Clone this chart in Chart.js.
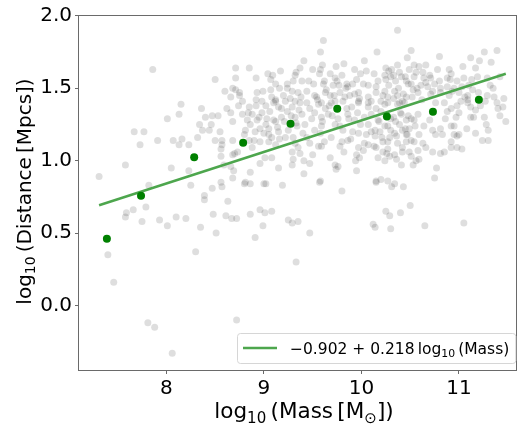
<!DOCTYPE html>
<html><head><meta charset="utf-8">
<script src="https://cdn.jsdelivr.net/npm/chart.js@4.4.1/dist/chart.umd.min.js"></script>
<style>html,body{margin:0;padding:0;background:#fff;overflow:hidden}canvas{display:block}</style>
</head><body>
<canvas id="c" width="521" height="426"></canvas>
<script>
// ---- data ----
const xTicks = [8, 9, 10, 11];
const yTicks = [0.0, 0.5, 1.0, 1.5, 2.0];
const xRange = [7.104, 11.595];
const yRange = [-0.446, 2.006];
const binMass = [7.39, 7.74, 8.285, 8.787, 9.273, 9.752, 10.261, 10.733, 11.204];
const binDist = [0.46, 0.758, 1.023, 1.124, 1.255, 1.358, 1.305, 1.337, 1.42];
const fitMass = [7.31, 11.48];
const fitDist = [0.692, 1.600];
const fitLabel = '−0.902 + 0.218 log₁₀ (Mass)';
const xTitle = 'log₁₀ (Mass [M☉])';
const yTitle = 'log₁₀ (Distance [Mpcs])';
const galaxies = [
[7.58,0.61],[7.59,0.64],[7.66,0.66],[7.79,0.68],[7.75,0.58],[7.82,0.83],[7.40,0.35],[7.46,0.16],[7.81,-0.12],[7.88,-0.15],[8.06,-0.33],[7.93,0.59],[8.01,0.55],[8.10,0.61],[8.20,0.60],[8.25,0.83],[8.30,0.37],[8.35,0.54],[8.39,0.76],[8.39,0.73],[8.47,0.81],[8.48,0.63],[8.51,0.50],[8.57,0.82],[8.61,0.62],[8.63,0.72],[8.67,0.60],[8.72,0.60],[8.72,-0.10],[8.80,0.84],[8.86,0.84],[8.86,0.63],[8.91,0.47],[8.96,0.66],[8.99,0.55],[9.01,0.64],[9.00,0.84],[9.08,0.65],[9.19,0.83],[9.25,0.59],[9.29,0.57],[9.35,0.58],[9.33,0.30],[9.47,0.50],[9.57,0.85],[9.80,0.79],[10.12,0.56],[10.14,0.54],[10.15,0.85],[10.25,0.65],[10.29,0.62],[10.30,0.53],[10.31,0.82],[10.43,0.82],[10.40,0.64],[10.50,0.69],[10.65,0.55],[11.05,0.57],
[7.86,1.63],[8.01,1.29],[7.67,1.20],[7.77,1.20],[7.91,1.14],[7.73,1.11],[8.07,1.14],[7.58,0.97],[7.31,0.89],[8.05,0.95],
[8.15,1.39],[8.36,1.36],[8.13,1.32],[8.40,1.30],[8.47,1.31],[8.53,1.31],[8.34,1.25],[8.46,1.25],[8.37,1.21],[8.44,1.21],[8.66,1.33],[8.74,1.38],[8.85,1.37],[8.92,1.38],[8.16,1.15],[8.23,1.11],[8.13,1.11],[8.32,1.16],[8.50,1.14],[8.57,1.11],[8.57,1.14],[8.68,1.14],[8.73,1.06],[8.68,1.04],[8.90,1.14],[8.85,1.14],[8.96,1.13],[8.56,1.03],[8.66,0.96],[8.69,0.93],[8.86,0.92],[8.96,0.98],[8.81,0.85],[8.56,0.85],[8.23,0.93],[9.02,0.84],
[8.78,1.32],[8.83,1.28],[8.88,1.32],[8.93,1.28],[8.98,1.33],[9.03,1.29],[9.05,1.22],[9.12,1.27],[9.18,1.30],[9.24,1.34],[9.15,1.20],[9.08,1.16],[9.00,1.19],[8.91,1.20],[8.86,1.25],[8.96,1.22],[8.81,1.21],[9.22,1.16],[9.12,1.11],[9.05,1.13],[9.02,1.38],[9.15,1.37],[9.10,1.40],
[8.71,1.64],[8.85,1.64],[8.50,1.56],[8.71,1.57],[8.92,1.57],[9.04,1.60],[9.09,1.59],[9.17,1.62],[9.07,1.56],[9.12,1.53],[8.68,1.50],[8.71,1.49],[8.75,1.47],[8.66,1.44],[8.93,1.47],[8.99,1.48],[9.07,1.49],[9.16,1.50],[9.08,1.44],[8.78,1.41],[9.12,1.41],[9.24,1.53],[9.24,1.50],[9.22,1.41],
[10.37,1.90],[9.61,1.83],[9.58,1.75],[10.16,1.75],[9.41,1.69],[10.03,1.69],[9.37,1.64],[9.33,1.61],[9.32,1.59],[9.50,1.63],[9.60,1.66],[9.58,1.63],[9.57,1.60],[9.74,1.65],[9.82,1.67],[9.68,1.60],[9.80,1.59],[9.73,1.57],[9.93,1.63],[10.05,1.62],[9.99,1.60],[10.13,1.60],[10.25,1.64],[10.28,1.62],[10.31,1.63],[10.37,1.66],[10.39,1.61],[10.24,1.59],[10.17,1.55],[10.35,1.55],[10.46,1.55],[9.30,1.55],[9.39,1.55],[9.46,1.55],[9.51,1.53],[9.61,1.53],[9.71,1.52],[9.75,1.55],[9.85,1.53],[9.86,1.51],[9.95,1.56],[10.02,1.53],[10.07,1.52],[10.15,1.51],[10.25,1.56],[10.33,1.59],[10.41,1.58],
[9.29,1.48],[9.35,1.47],[9.44,1.48],[9.52,1.45],[9.54,1.44],[9.63,1.47],[9.68,1.45],[9.78,1.47],[9.83,1.44],[9.88,1.45],[9.97,1.47],[9.98,1.43],[10.07,1.44],[10.10,1.41],[10.15,1.47],[10.24,1.48],[10.27,1.44],[10.34,1.48],[10.37,1.45],[10.42,1.41],[10.46,1.44],[9.32,1.41],[9.44,1.40],[9.59,1.40],[9.69,1.40],[9.73,1.41],[9.97,1.41],[10.07,1.40],[10.20,1.41],[10.27,1.40],[10.39,1.40],
[10.51,1.76],[10.80,1.72],[11.26,1.75],[11.39,1.76],[10.47,1.71],[11.21,1.69],[11.33,1.68],[11.12,1.71],[10.54,1.66],[10.59,1.65],[10.66,1.66],[10.49,1.63],[10.63,1.61],[10.70,1.59],[10.78,1.63],[10.90,1.63],[10.92,1.60],[11.04,1.65],[11.17,1.64],[10.54,1.58],[10.64,1.57],[10.71,1.57],[10.80,1.55],[10.88,1.57],[10.91,1.56],[10.98,1.55],[11.05,1.57],[11.19,1.58],[11.29,1.57],[10.51,1.53],[10.61,1.52],[10.68,1.51],[10.75,1.53],[10.81,1.50],[10.88,1.51],[10.95,1.50],[11.03,1.51],[11.10,1.52],[11.14,1.49],[10.53,1.49],[10.58,1.47],[10.73,1.48],[10.81,1.47],[10.90,1.45],[11.00,1.47],[11.09,1.45],[11.20,1.47],[11.29,1.45],[11.36,1.44],[11.46,1.43],[11.02,1.41],[11.09,1.42],[11.27,1.41],[11.39,1.40],
[10.58,1.32],[10.54,1.28],[10.51,1.29],[10.49,1.22],[10.47,1.18],[10.59,1.18],[10.64,1.24],[10.70,1.28],[10.73,1.21],[10.76,1.18],[10.81,1.22],[10.83,1.18],[10.54,1.13],[10.63,1.12],[10.66,1.09],[10.73,1.06],[10.81,1.05],[10.85,1.06],[10.92,1.13],[10.92,1.09],[10.98,1.09],[11.03,1.08],[10.88,1.34],[10.86,1.29],[10.92,1.36],[10.98,1.38],[10.97,1.30],[10.92,1.24],[10.95,1.24],[11.00,1.18],[10.98,1.17],[11.09,1.40],[11.12,1.37],[11.17,1.35],[11.12,1.30],[11.15,1.30],[11.26,1.30],[11.40,1.36],[11.45,1.37],[11.42,1.31],[11.17,1.19],[11.30,1.21],[11.24,1.14],[11.30,1.14],[10.49,1.06],[10.51,1.03],[10.56,1.00],[10.59,1.01],[10.53,0.97],[10.77,0.95],[10.75,0.88],
[9.29,1.37],[9.37,1.40],[9.47,1.36],[9.56,1.39],[9.63,1.36],[9.85,1.36],[9.97,1.40],[10.07,1.37],[10.15,1.36],[10.24,1.39],[10.37,1.39],[10.44,1.40],[9.32,1.30],[9.39,1.32],[9.49,1.29],[9.59,1.30],[9.66,1.32],[9.76,1.29],[9.86,1.32],[9.93,1.28],[10.03,1.30],[10.10,1.32],[10.17,1.28],[10.30,1.29],[10.41,1.32],[10.46,1.28],[9.34,1.24],[9.42,1.25],[9.52,1.21],[9.59,1.24],[9.73,1.25],[9.81,1.21],[9.91,1.20],[9.97,1.19],[10.07,1.25],[10.14,1.21],[10.19,1.20],[10.27,1.24],[10.34,1.19],[10.42,1.21],[10.46,1.18],[9.32,1.12],[9.47,1.12],[9.56,1.10],[9.69,1.16],[9.80,1.13],[9.86,1.14],[10.03,1.12],[10.14,1.17],[10.22,1.13],[10.29,1.16],[10.37,1.12],[10.46,1.13],[9.29,1.06],[9.37,1.05],[9.59,1.10],[9.78,1.10],[9.97,1.09],[10.07,1.11],[10.15,1.09],[10.22,1.06],[10.27,1.08],[10.34,1.04],[10.42,1.06],[9.30,1.01],[9.41,1.00],[9.47,0.98],[9.73,0.97],[9.76,0.96],[9.95,1.04],[9.98,1.02],[10.17,1.02],[10.24,1.00],[10.29,1.03],[10.36,1.01],[10.41,0.97],[9.41,0.91],[9.74,0.94],[9.95,0.93],[9.58,0.86],[10.15,0.86],[10.20,0.87],[10.27,0.86],[10.34,0.84],
[8.95,1.30],[9.02,1.25],[9.06,1.34],[9.10,1.28],[9.14,1.23],[9.18,1.36],[9.21,1.27],[9.25,1.21],[9.28,1.31],[9.33,1.26],[9.36,1.35],[9.12,1.42],[9.20,1.45],[9.27,1.43],[9.05,1.18],[9.16,1.15],[8.98,1.41],[9.40,1.19],[9.38,1.44],[9.30,1.16],
[9.52,1.33],[9.55,1.42],[9.60,1.27],[9.64,1.49],[9.67,1.38],[9.70,1.31],[9.72,1.45],[9.75,1.36],[9.78,1.24],[9.81,1.41],[9.84,1.50],[9.87,1.29],[9.90,1.37],[9.93,1.46],[9.96,1.33],[9.99,1.25],[9.62,1.55],[9.77,1.52],[9.91,1.53],[9.58,1.19],
[10.10,1.20],[10.13,1.10],[10.18,1.27],[10.21,1.16],[10.24,1.24],[10.27,1.13],[10.30,1.21],[10.33,1.30],[10.36,1.17],[10.39,1.25],[10.42,1.09],[10.45,1.22],[10.48,1.31],[10.51,1.14],[10.55,1.24],[10.58,1.07],[10.26,1.05],[10.40,1.33],[10.20,1.34],[10.35,1.27],
[10.22,1.45],[10.28,1.52],[10.33,1.43],[10.38,1.50],[10.43,1.46],[10.48,1.53],[10.52,1.44],[10.57,1.50],[10.62,1.42],[10.66,1.54],[10.71,1.46],[10.76,1.40],[10.45,1.58],[10.56,1.61],[10.30,1.58],
[8.55,1.20],[8.62,1.36],[8.68,1.27],[8.75,1.45],[8.80,1.18],[8.84,1.33],[8.88,1.09],[8.92,1.42],[8.70,1.05],[8.60,1.48],
[10.85,1.40],[10.93,1.48],[11.00,1.33],[11.06,1.44],[11.13,1.56],[11.22,1.38],[11.28,1.25],[11.35,1.50],[11.42,1.58],[11.48,1.27],[10.95,1.18],[11.08,1.22],
[9.35,1.09],[9.44,1.16],[9.50,1.04],[9.62,1.13],[9.68,1.02],[9.82,1.06],[9.89,1.15],[9.94,1.00],[10.02,1.07],[10.05,1.18],
[11.32,1.52],[9.29,0.97],[9.01,1.02],[8.68,0.88],[8.59,0.97],[8.56,1.08],[9.08,1.02],[9.15,0.95]
];

// ---- rich text helpers (subscripts) ----
const FONT = '"DejaVu Sans", "Liberation Sans", sans-serif';
const xTitleSegs = [['log',0],['10',1],['\u2009(Mass\u2009[M',0],['\u2299',1],['])',0]];
const yTitleSegs = [['log',0],['10',1],['\u2009(Distance\u2009[Mpcs])',0]];
const legendSegs = [['\u22120.902 + 0.218\u2009log',0],['10',1],['\u2009(Mass)',0]];
function richWidth(ctx, segs, size){
  let w = 0;
  for (const [t, sub] of segs){ ctx.font = (sub ? size*0.7 : size) + 'px ' + FONT; w += ctx.measureText(t).width; }
  return w;
}
function drawRich(ctx, segs, x, y, size, align){
  const w = richWidth(ctx, segs, size);
  let cx = align === 'center' ? x - w/2 : x;
  ctx.textAlign = 'left'; ctx.textBaseline = 'alphabetic';
  for (const [t, sub] of segs){
    ctx.font = (sub ? size*0.7 : size) + 'px ' + FONT;
    ctx.fillText(t, cx, y + (sub ? size*0.22 : 0));
    cx += ctx.measureText(t).width;
  }
  return w;
}

const LINE_COLOR = 'rgb(77,166,77)';
const SPINE = '#6a6a6a';

const decor = {
  id: 'decor',
  afterDraw(chart){
    const ctx = chart.ctx, a = chart.chartArea;
    ctx.save();
    // spines
    ctx.strokeStyle = SPINE; ctx.lineWidth = 1;
    ctx.strokeRect(Math.round(a.left) - 0.5, Math.round(a.top) + 0.5, Math.round(a.right - a.left), Math.round(a.bottom - a.top));
    // axis titles
    ctx.fillStyle = '#000';
    drawRich(ctx, xTitleSegs, (a.left + a.right)/2 + 6, 418, 21.5, 'center');
    ctx.save();
    ctx.translate(31, (a.top + a.bottom)/2 - 1);
    ctx.rotate(-Math.PI/2);
    drawRich(ctx, yTitleSegs, 0, 0, 20, 'center');
    ctx.restore();
    // legend
    const size = 15.5;
    const tw = richWidth(ctx, legendSegs, size);
    const lx = 237, ly = 333, lh = 30;
    const lw = (290 - lx) + tw + 6;
    ctx.beginPath();
    ctx.roundRect(lx + 0.5, ly + 0.5, lw, lh, 3);
    ctx.fillStyle = 'rgba(255,255,255,0.8)'; ctx.fill();
    ctx.strokeStyle = '#d6d6d6'; ctx.lineWidth = 1; ctx.stroke();
    ctx.beginPath();
    ctx.moveTo(243, 348); ctx.lineTo(277, 348);
    ctx.strokeStyle = LINE_COLOR; ctx.lineWidth = 2.5; ctx.stroke();
    ctx.fillStyle = '#000';
    drawRich(ctx, legendSegs, 290, 353.5, size, 'left');
    ctx.restore();
  }
};

const tickFont = {family: FONT, size: 20};
new Chart(document.getElementById('c'), {
  type: 'scatter',
  data: {
    datasets: [
      {label: fitLabel, data: fitMass.map((x, i) => ({x, y: fitDist[i]})), showLine: true,
       borderColor: LINE_COLOR, borderWidth: 2.5, pointRadius: 0, fill: false, order: 1},
      {label: 'binned mean', data: binMass.map((x, i) => ({x, y: binDist[i]})),
       backgroundColor: '#008000', pointBackgroundColor: '#008000', pointRadius: 4, borderWidth: 0, pointBorderWidth: 0, order: 0},
      {label: 'galaxies', data: galaxies.map(([x, y]) => ({x, y})),
       backgroundColor: 'rgba(0,0,0,0.13)', pointBackgroundColor: 'rgba(0,0,0,0.13)', pointRadius: 3.5, borderWidth: 0, pointBorderWidth: 0, order: 2}
    ]
  },
  options: {
    responsive: false, animation: false, events: [],
    layout: {padding: {top: 13, right: 1, left: 0, bottom: 0}},
    plugins: {legend: {display: false}, tooltip: {enabled: false}},
    scales: {
      x: {type: 'linear', min: xRange[0], max: xRange[1],
          grid: {display: true, drawOnChartArea: false, drawTicks: true, tickLength: 4, color: SPINE, tickColor: SPINE},
          border: {display: false},
          ticks: {font: tickFont, color: '#000', padding: 3, maxRotation: 0, autoSkip: false, callback: v => String(v)},
          afterBuildTicks: s => { s.ticks = xTicks.map(v => ({value: v})); },
          afterFit: s => { s.height = 56; }},
      y: {type: 'linear', min: yRange[0], max: yRange[1],
          grid: {display: true, drawOnChartArea: false, drawTicks: true, tickLength: 4, color: SPINE, tickColor: SPINE},
          border: {display: false},
          ticks: {font: tickFont, color: '#000', padding: 3, autoSkip: false, callback: v => Number(v).toFixed(1)},
          afterBuildTicks: s => { s.ticks = yTicks.map(v => ({value: v})); },
          afterFit: s => { s.width = 79; }}
    }
  },
  plugins: [decor]
});
</script>
</body></html>
